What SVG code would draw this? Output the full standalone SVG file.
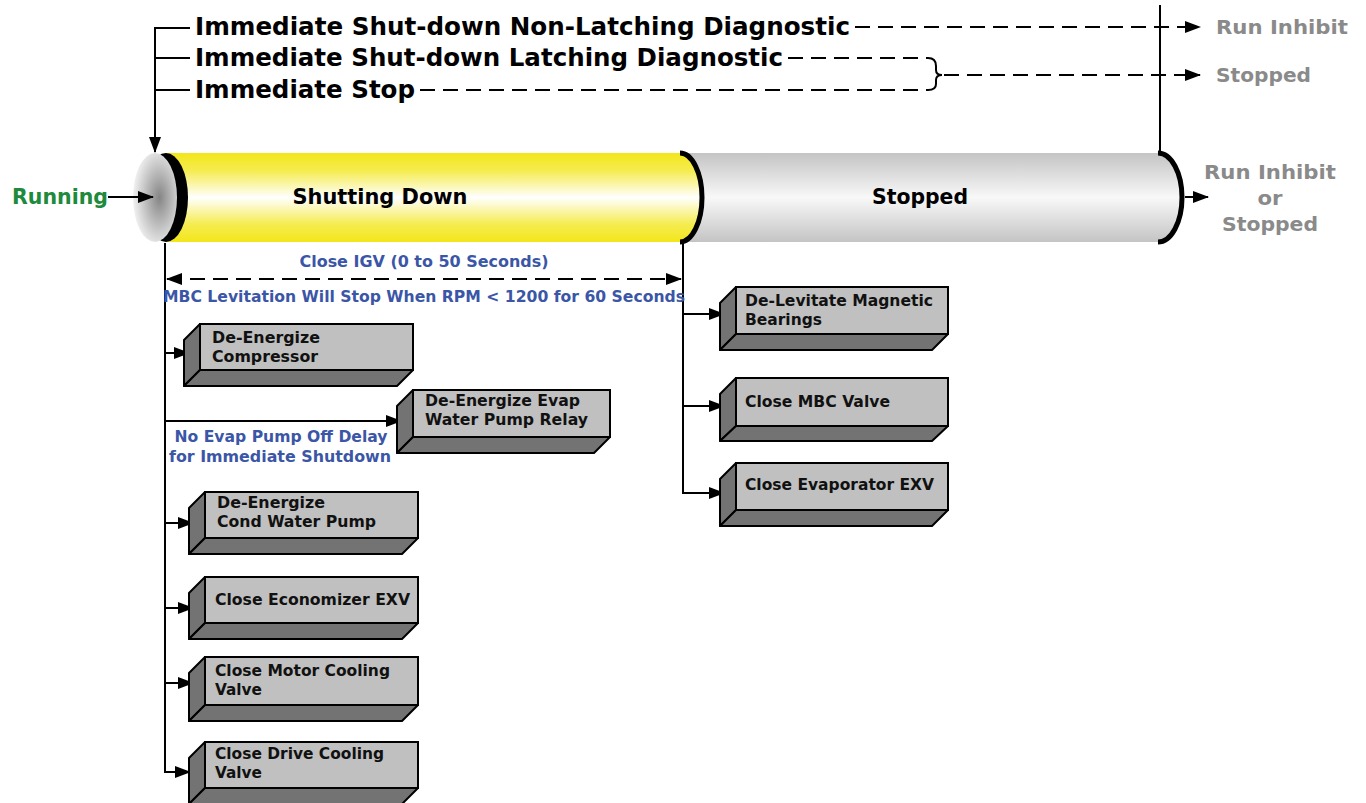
<svg xmlns="http://www.w3.org/2000/svg" width="1366" height="803" viewBox="0 0 1366 803">
<defs>
<linearGradient id="gy" x1="0" y1="0" x2="0" y2="1">
<stop offset="0" stop-color="#f3e61a"/><stop offset="0.2" stop-color="#f5ec50"/><stop offset="0.5" stop-color="#ffffff"/><stop offset="0.8" stop-color="#f5ec50"/><stop offset="1" stop-color="#f3e61a"/>
</linearGradient>
<linearGradient id="gg" x1="0" y1="0" x2="0" y2="1">
<stop offset="0" stop-color="#c4c4c4"/><stop offset="0.5" stop-color="#f8f8f8"/><stop offset="1" stop-color="#c4c4c4"/>
</linearGradient>
<radialGradient id="gr" cx="0.6" cy="0.5" r="0.6">
<stop offset="0" stop-color="#858585"/><stop offset="1" stop-color="#f2f2f2"/>
</radialGradient>
<marker id="ah" markerUnits="userSpaceOnUse" markerWidth="16" markerHeight="12" refX="15" refY="6" orient="auto-start-reverse">
<path d="M0,0 L16,6 L0,12 Z" fill="#000"/>
</marker>
</defs>
<style>
.t{font-family:"DejaVu Sans",Verdana,sans-serif;font-weight:bold}
.hd{font-size:24.5px;fill:#000}
.gr{font-size:20px;fill:#8a8a8a}
.bl{font-size:15.5px;fill:#3b56a6}
.bx{font-size:15.6px;fill:#111}
.ln{stroke:#000;stroke-width:2;fill:none}
.ds{stroke:#000;stroke-width:2;fill:none;stroke-dasharray:15 8}
.ff{fill:#c0c0c0;stroke:#000;stroke-width:2}
.df{fill:#737373;stroke:#000;stroke-width:2;stroke-linejoin:round}
</style>

<g id="cylinder-stopped">
<path d="M680,153 H1158 A24,44.5 0 0 1 1158,242 H680 Z" fill="url(#gg)"/>
<path d="M1158,153 A24,44.5 0 0 1 1158,242" fill="none" stroke="#000" stroke-width="5"/>
<text class="t" x="920" y="204" font-size="20.5" text-anchor="middle" textLength="96" lengthAdjust="spacingAndGlyphs">Stopped</text>
</g>
<g id="cylinder-shutting">
<path d="M165,153 H680 A22,44.5 0 0 1 680,242 H165 Z" fill="url(#gy)"/>
<path d="M680,153 A22,44.5 0 0 1 680,242" fill="none" stroke="#000" stroke-width="5"/>
<ellipse cx="166" cy="197.5" rx="22" ry="44.5" fill="#000"/>
<ellipse cx="155" cy="197.5" rx="22" ry="44.5" fill="url(#gr)"/>
<text class="t" x="380" y="204" font-size="20.5" text-anchor="middle" textLength="175" lengthAdjust="spacingAndGlyphs">Shutting Down</text>
</g>

<g id="connectors">
<path class="ln" d="M190,28 H155 V152" marker-end="url(#ah)"/>
<path class="ln" d="M155,58 H190"/>
<path class="ln" d="M155,90 H190"/>
<path class="ds" d="M855,27 H1200" marker-end="url(#ah)"/>
<path class="ds" d="M788,58 H928"/>
<path class="ds" d="M420,90 H928"/>
<path class="ln" d="M928,58 Q936,58 936,66 L936,70 Q936,75 942,75 Q936,75 936,80 L936,84 Q936,90 928,90"/>
<path class="ds" d="M944,75 H1200" marker-end="url(#ah)"/>
<path class="ln" d="M1160,5 V153"/>
<path class="ln" d="M108,197 H153" marker-end="url(#ah)"/>
<path class="ln" d="M1185,197 H1208" marker-end="url(#ah)"/>
<path class="ln" d="M165,243 V772 H190" marker-end="url(#ah)"/>
<path class="ds" d="M167,279 H681" marker-start="url(#ah)" marker-end="url(#ah)"/>
<path class="ln" d="M165,353 H189" marker-end="url(#ah)"/>
<path class="ln" d="M165,421 H401" marker-end="url(#ah)"/>
<path class="ln" d="M165,523 H193" marker-end="url(#ah)"/>
<path class="ln" d="M165,608 H193" marker-end="url(#ah)"/>
<path class="ln" d="M165,683 H193" marker-end="url(#ah)"/>
<path class="ln" d="M683,243 V493 H724" marker-end="url(#ah)"/>
<path class="ln" d="M683,314 H724" marker-end="url(#ah)"/>
<path class="ln" d="M683,406 H724" marker-end="url(#ah)"/>
</g>

<g id="running"><text class="t" x="12" y="204" font-size="20.5" fill="#1d8a3c" textLength="96" lengthAdjust="spacingAndGlyphs">Running</text></g>
<g id="result"><text class="t gr" x="1270" y="179" text-anchor="middle" textLength="132" lengthAdjust="spacingAndGlyphs">Run Inhibit</text><text class="t gr" x="1270" y="205" text-anchor="middle" textLength="25" lengthAdjust="spacingAndGlyphs">or</text><text class="t gr" x="1270" y="231" text-anchor="middle" textLength="96" lengthAdjust="spacingAndGlyphs">Stopped</text></g>

<g id="triggers">
<text class="t hd" x="195" y="35" textLength="655" lengthAdjust="spacingAndGlyphs">Immediate Shut-down Non-Latching Diagnostic</text>
<text class="t hd" x="195" y="66" textLength="588" lengthAdjust="spacingAndGlyphs">Immediate Shut-down Latching Diagnostic</text>
<text class="t hd" x="195" y="98" textLength="220" lengthAdjust="spacingAndGlyphs">Immediate Stop</text>
<text class="t gr" x="1216" y="34" textLength="132" lengthAdjust="spacingAndGlyphs">Run Inhibit</text>
<text class="t gr" x="1216" y="82" textLength="95" lengthAdjust="spacingAndGlyphs">Stopped</text>
</g>

<g id="notes">
<text class="t bl" x="424" y="267" text-anchor="middle" textLength="249" lengthAdjust="spacingAndGlyphs">Close IGV (0 to 50 Seconds)</text>
<text class="t bl" x="424" y="302" text-anchor="middle" textLength="522" lengthAdjust="spacingAndGlyphs">MBC Levitation Will Stop When RPM &lt; 1200 for 60 Seconds</text>
<text class="t bl" x="281" y="442" text-anchor="middle" textLength="213" lengthAdjust="spacingAndGlyphs">No Evap Pump Off Delay</text>
<text class="t bl" x="280" y="462" text-anchor="middle" textLength="222" lengthAdjust="spacingAndGlyphs">for Immediate Shutdown</text>
</g>

<g id="box-compressor">
<polygon class="df" points="184,340 200,324 200,370 184,386"/>
<polygon class="df" points="200,370 413,370 397,386 184,386"/>
<rect class="ff" x="200" y="324" width="213" height="46"/>
<text class="t bx" x="212" y="343" textLength="108" lengthAdjust="spacingAndGlyphs">De-Energize</text><text class="t bx" x="212" y="362" textLength="106" lengthAdjust="spacingAndGlyphs">Compressor</text>
</g>
<g id="box-evap-pump">
<polygon class="df" points="397,406 413,390 413,437 397,453"/>
<polygon class="df" points="413,437 610,437 594,453 397,453"/>
<rect class="ff" x="413" y="390" width="197" height="47"/>
<text class="t bx" x="425" y="406" textLength="155" lengthAdjust="spacingAndGlyphs">De-Energize Evap</text><text class="t bx" x="425" y="425" textLength="163" lengthAdjust="spacingAndGlyphs">Water Pump Relay</text>
</g>
<g id="box-cond-pump">
<polygon class="df" points="189,508 205,492 205,538 189,554"/>
<polygon class="df" points="205,538 418,538 402,554 189,554"/>
<rect class="ff" x="205" y="492" width="213" height="46"/>
<text class="t bx" x="217" y="508" textLength="108" lengthAdjust="spacingAndGlyphs">De-Energize</text><text class="t bx" x="217" y="527" textLength="159" lengthAdjust="spacingAndGlyphs">Cond Water Pump</text>
</g>
<g id="box-economizer">
<polygon class="df" points="189,593 205,577 205,623 189,639"/>
<polygon class="df" points="205,623 418,623 402,639 189,639"/>
<rect class="ff" x="205" y="577" width="213" height="46"/>
<text class="t bx" x="215" y="605" textLength="195" lengthAdjust="spacingAndGlyphs">Close Economizer EXV</text>
</g>
<g id="box-motor-cooling">
<polygon class="df" points="189,673 205,657 205,705 189,721"/>
<polygon class="df" points="205,705 418,705 402,721 189,721"/>
<rect class="ff" x="205" y="657" width="213" height="48"/>
<text class="t bx" x="215" y="676" textLength="175" lengthAdjust="spacingAndGlyphs">Close Motor Cooling</text><text class="t bx" x="215" y="695" textLength="47" lengthAdjust="spacingAndGlyphs">Valve</text>
</g>
<g id="box-drive-cooling">
<polygon class="df" points="189,758 205,742 205,788 189,804"/>
<polygon class="df" points="205,788 418,788 402,804 189,804"/>
<rect class="ff" x="205" y="742" width="213" height="46"/>
<text class="t bx" x="215" y="759" textLength="169" lengthAdjust="spacingAndGlyphs">Close Drive Cooling</text><text class="t bx" x="215" y="778" textLength="47" lengthAdjust="spacingAndGlyphs">Valve</text>
</g>
<g id="box-delevitate">
<polygon class="df" points="720,303 736,287 736,334 720,350"/>
<polygon class="df" points="736,334 948,334 932,350 720,350"/>
<rect class="ff" x="736" y="287" width="212" height="47"/>
<text class="t bx" x="745" y="306" textLength="188" lengthAdjust="spacingAndGlyphs">De-Levitate Magnetic</text><text class="t bx" x="745" y="325" textLength="77" lengthAdjust="spacingAndGlyphs">Bearings</text>
</g>
<g id="box-mbc-valve">
<polygon class="df" points="720,394 736,378 736,426 720,441"/>
<polygon class="df" points="736,426 948,426 932,441 720,441"/>
<rect class="ff" x="736" y="378" width="212" height="48"/>
<text class="t bx" x="745" y="407" textLength="145" lengthAdjust="spacingAndGlyphs">Close MBC Valve</text>
</g>
<g id="box-evap-exv">
<polygon class="df" points="720,479 736,463 736,510 720,526"/>
<polygon class="df" points="736,510 948,510 932,526 720,526"/>
<rect class="ff" x="736" y="463" width="212" height="47"/>
<text class="t bx" x="745" y="490" textLength="189" lengthAdjust="spacingAndGlyphs">Close Evaporator EXV</text>
</g>
</svg>
